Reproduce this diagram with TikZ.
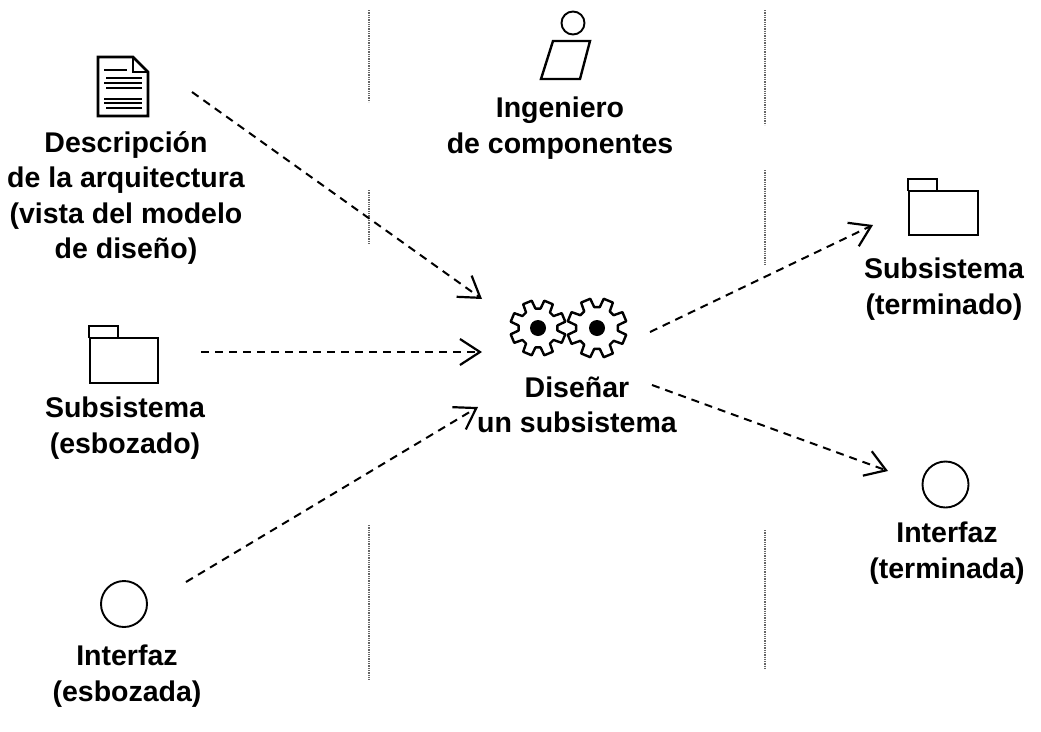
\documentclass[tikz,border=0pt]{standalone}
\usepackage{fontspec}
\setmainfont{Liberation Sans}
\usetikzlibrary{arrows.meta}
\usetikzlibrary{calc}

\tikzset{
  lbl/.style={align=center, inner sep=0pt, font=\fontsize{28.5}{35.5}\selectfont\bfseries},
  dep/.style={dash pattern=on 8pt off 6pt, line width=2pt, -{Straight Barb[length=20pt,width=26pt,line width=2.2pt]}},
  lane/.style={densely dotted, line width=1.3pt, black!60},
  iface/.style={circle, draw, line width=1.9pt, minimum size=46pt, inner sep=0pt},
  icon/.style={line width=2.4pt, line join=miter},
}

% folder: top left of its body, width, height
\newcommand{\folder}[4]{
  \draw[icon, line width=2.8pt] (#1-1,#2) -- ++(0,-12) -- ++(29,0) -- ++(0,12);
  \draw[icon, line width=2.8pt] (#1,#2) rectangle ++(#3,#4);
}

% gear: centre x, centre y, radius
\newcommand{\gear}[3]{
  \draw[icon, line join=round, fill=white] ($(#1,#2)+(7.5:0.7*#3)$)
    \foreach \t in {0,45,...,315} {
      -- ($(#1,#2)+(\t+7.5:0.7*#3)$) -- ($(#1,#2)+(\t+13:#3)$)
      -- ($(#1,#2)+(\t+32:#3)$) -- ($(#1,#2)+(\t+37.5:0.7*#3)$)
    } -- cycle;
  \fill (#1,#2) circle (8);
}

\begin{document}
\begin{tikzpicture}[x=1pt, y=-1pt]
\useasboundingbox (0,0) rectangle (1041,731);

% swimlanes
\draw[lane] (369,10) -- (369,102);
\draw[lane] (369,190) -- (369,245);
\draw[lane] (369,525) -- (369,680);
\draw[lane] (765,10) -- (765,125);
\draw[lane] (765,170) -- (765,265);
\draw[lane] (765,530) -- (765,670);

% worker
\node[circle, draw, line width=1.9pt, minimum size=23pt, inner sep=0pt] (head) at (573,23) {};
\draw[icon] (553,41) -- (590,41) -- (580,79) -- (541,79) -- cycle;
\node[lbl] (worker) at (560,128) {Ingeniero\\de componentes};

% document
\draw[icon, line width=2.6pt] (98,57) -- (133,57) -- (148,72) -- (148,116) -- (98,116) -- cycle;
\draw[line width=1.4pt] (133,57) -- (133,72) -- (148,72);
\draw[line width=2.2pt] (104,70) -- (127,70);
\foreach \y/\a/\b in {78/106/142, 83/104/142, 99/104/142, 103/104/142, 108/106/142} {
  \draw[line width=1.3pt] (\a,\y) -- (\b,\y);
}
\draw[line width=2.4pt] (106,88) -- (142,88);
\node[lbl] (arch) at (126,198) {Descripción\\de la arquitectura\\(vista del modelo\\de diseño)};

% inputs
\folder{90}{338}{68}{45}
\node[lbl] (subin) at (125,428) {Subsistema\\(esbozado)};
\node[iface] (ifin) at (124,604) {};
\node[lbl] (iflblin) at (127,676) {Interfaz\\(esbozada)};

% activity
\gear{538}{328}{28}
\gear{597}{328}{30}
\node[lbl] (act) at (577,405) {Diseñar\\un subsistema};

% outputs
\folder{909}{191}{69}{44}
\node[lbl] (subout) at (944,289) {Subsistema\\(terminado)};
\node[iface] (ifout) at (945.5,484.5) {};
\node[lbl] (iflblout) at (947,553) {Interfaz\\(terminada)};

% free ends of the dependencies
\coordinate (a1) at (192,92);
\coordinate (a2) at (482,299);
\coordinate (b1) at (201,352);
\coordinate (b2) at (482,352);
\coordinate (c1) at (186,582);
\coordinate (c2) at (478,407);
\coordinate (d1) at (650,332);
\coordinate (d2) at (873,225);
\coordinate (e1) at (652,385);
\coordinate (e2) at (888,471);

\draw[dep] (a1) -- (a2);
\draw[dep] (b1) -- (b2);
\draw[dep] (c1) -- (c2);
\draw[dep] (d1) -- (d2);
\draw[dep] (e1) -- (e2);

\end{tikzpicture}
\end{document}
